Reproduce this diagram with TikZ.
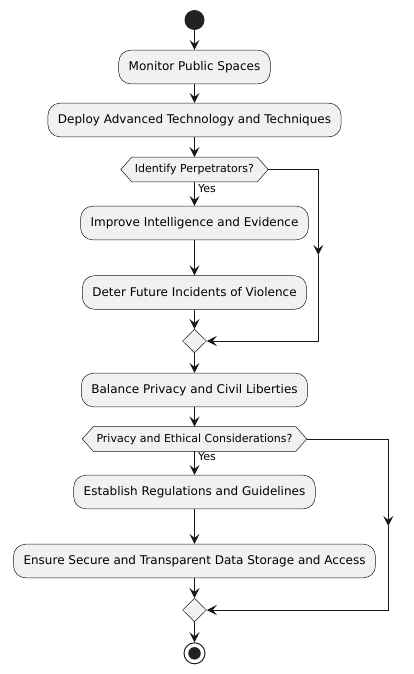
\documentclass[tikz,border=0pt]{standalone}
\usepackage{fontspec}
\setmainfont{DejaVu Sans}
\usetikzlibrary{arrows.meta, shapes.geometric, backgrounds}

\definecolor{boxfill}{HTML}{F1F1F1}
\definecolor{inkline}{HTML}{181818}
\definecolor{dotfill}{HTML}{222222}

\tikzset{
    action/.style={draw=inkline, line width=0.5pt, fill=boxfill, rounded corners=12pt,
        minimum height=33.6pt, inner xsep=10pt, font=\fontsize{12}{14}\selectfont},
    question/.style={minimum height=24.5pt, inner xsep=14pt, inner ysep=0pt,
        font=\fontsize{11}{13}\selectfont},
    merge/.style={diamond, draw=inkline, line width=0.5pt, fill=boxfill,
        minimum width=24pt, minimum height=23.5pt, inner sep=0pt},
    flow/.style={draw=inkline, line width=1pt, -{Stealth[length=10pt, width=10pt, inset=4pt]}},
    yeslabel/.style={right, inner sep=3pt, font=\fontsize{11}{13}\selectfont},
}

\begin{document}
\begin{tikzpicture}[x=1pt, y=-1pt]
    \useasboundingbox (0, 0) rectangle (413, 674);

    % Start
    \node[circle, fill=dotfill, minimum size=20pt, inner sep=0pt] (start) at (194.5, 20) {};

    % First part
    \node[action] (monitor) at (194.5, 67) {Monitor Public Spaces};
    \node[action] (deploy) at (194.5, 120) {Deploy Advanced Technology and Techniques};
    \node[question] (perp) at (194.5, 169.5) {Identify Perpetrators?};
    \node[action] (improve) at (194.5, 223) {Improve Intelligence and Evidence};
    \node[action] (deter) at (194.5, 292.5) {Deter Future Incidents of Violence};
    \node[merge] (joinA) at (194.5, 341) {};
    \coordinate (sideA) at (318.3, 255);

    % Second part
    \node[action] (balance) at (194.5, 390) {Balance Privacy and Civil Liberties};
    \node[question] (ethics) at (194.5, 439) {Privacy and Ethical Considerations?};
    \node[action] (establish) at (194.5, 492) {Establish Regulations and Guidelines};
    \node[action] (ensure) at (194.5, 561) {Ensure Secure and Transparent Data Storage and Access};
    \node[merge] (joinB) at (194.5, 610) {};
    \coordinate (sideB) at (388.3, 526);

    % Stop
    \node[circle, draw=dotfill, line width=1pt, fill=white, minimum size=21pt, inner sep=0pt] (stop) at (194.5, 653.3) {};
    \node[circle, fill=dotfill, minimum size=12.5pt, inner sep=0pt] at (stop) {};

    % hexagon outlines behind the questions
    \begin{scope}[on background layer]
        \foreach \q in {perp, ethics} {
            \draw[draw=inkline, line width=0.5pt, fill=boxfill]
                (\q.west) -- ([xshift=11pt]\q.north west) -- ([xshift=-11pt]\q.north east)
                -- (\q.east) -- ([xshift=-11pt]\q.south east) -- ([xshift=11pt]\q.south west) -- cycle;
        }
    \end{scope}

    % Arrows
    \draw[flow] (start) -- (monitor);
    \draw[flow] (monitor) -- (deploy);
    \draw[flow] (deploy) -- (perp);
    \draw[flow] (perp) -- node[yeslabel, pos=0.27] {Yes} (improve);
    \draw[flow] (improve) -- (deter);
    \draw[flow] (deter) -- (joinA);
    \draw[flow] (perp.east) -| (sideA);
    \draw[flow] (sideA) |- (joinA.east);
    \draw[flow] (joinA) -- (balance);
    \draw[flow] (balance) -- (ethics);
    \draw[flow] (ethics) -- node[yeslabel, pos=0.23] {Yes} (establish);
    \draw[flow] (establish) -- (ensure);
    \draw[flow] (ensure) -- (joinB);
    \draw[flow] (ethics.east) -| (sideB);
    \draw[flow] (sideB) |- (joinB.east);
    \draw[flow] (joinB) -- (stop);
\end{tikzpicture}
\end{document}
